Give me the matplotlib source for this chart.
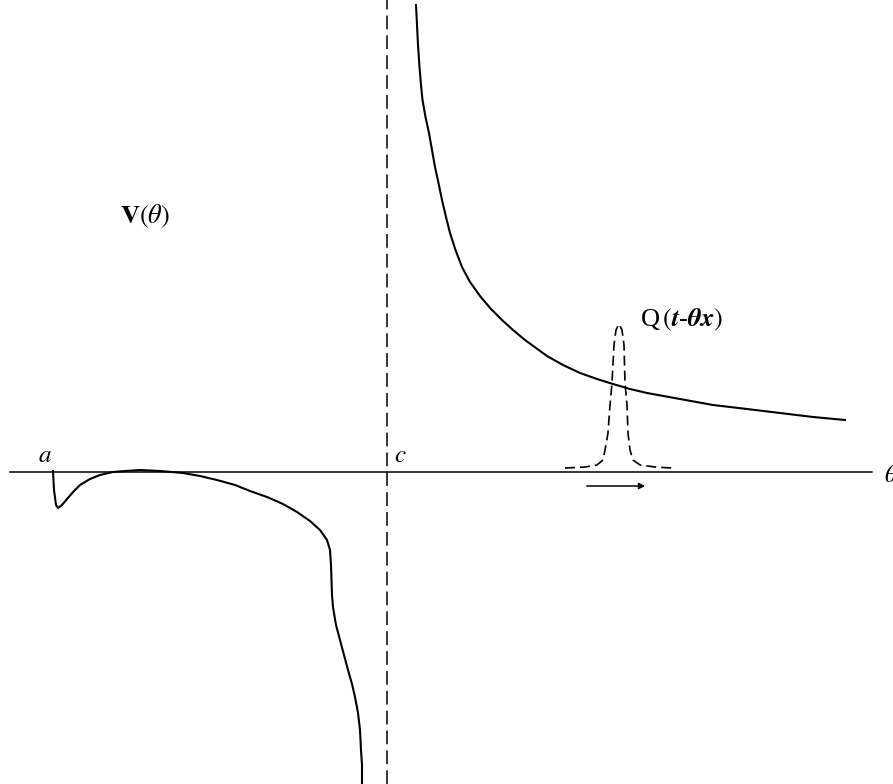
import numpy as np
import matplotlib.pyplot as plt

plt.rcParams['mathtext.fontset'] = 'stix'
plt.rcParams['font.family'] = 'Liberation Serif'

# picture units: theta to the right, V upward (axis at V = 0, c at theta = 387)
AXIS_PY = 472

# negative branch, from a down to the singularity at c
left_theta = [53, 54, 56, 58, 62, 67, 74, 80, 90, 100, 113, 125, 140, 160, 183, 200,
              217, 235, 250, 267, 283, 297, 310, 320, 327, 330, 331, 331.5, 332, 333,
              336, 340, 344, 348, 352, 355, 358, 360, 361, 362, 362]
left_py = [471, 490, 505, 508, 505, 499, 491, 485, 479, 475, 472, 471, 470, 471, 473, 476,
           480, 485, 491, 497, 504, 512, 521, 530, 540, 550, 565, 580, 595, 607,
           625, 640, 655, 670, 684, 697, 713, 730, 750, 765, 784]

# positive branch, right of c
right_theta = [416, 417, 418, 419.5, 421, 422.5, 425.5, 429, 432, 435, 438.5, 442, 446, 450,
               455.5, 462, 470, 480, 491, 502, 513, 525, 536, 547, 563, 580, 597, 613,
               630, 647, 680, 713, 747, 780, 813, 845]
right_py = [5, 25, 45, 67, 85, 100, 117, 133, 150, 167, 183, 200, 217, 233,
            250, 267, 282, 296, 309, 320, 330, 340, 348, 356, 365, 373, 379, 384,
            389, 393, 399, 405, 409, 413, 417, 420]

# the pulse Q(t - theta x)
pulse_theta = [565, 585, 597, 603, 605, 608, 610, 612, 614, 616, 619, 622, 624, 625,
               627, 628, 630, 633, 640, 655, 672]
pulse_py = [468, 467, 465, 460, 450, 433, 405, 383, 345, 330, 324, 330, 345, 383,
            405, 433, 450, 460, 465, 467, 468]

c_theta = 387


def v(py):
    return AXIS_PY - np.asarray(py, dtype=float)


fig = plt.figure(figsize=(8.93, 7.84), dpi=100)
ax = fig.add_axes([0, 0, 1, 1])
ax.set_xlim(0, 893)
ax.set_ylim(AXIS_PY - 784, AXIS_PY)
ax.axis('off')

# theta axis and the line theta = c
ax.plot([10, 872], [0, 0], color='black', lw=1.1)
ax.axvline(c_theta, color='black', lw=1.1, linestyle=(0, (9, 4)))

ax.plot(left_theta, v(left_py), color='black', lw=1.5)
ax.plot(right_theta, v(right_py), color='black', lw=1.5)
ax.plot(pulse_theta, v(pulse_py), color='black', lw=1.2, linestyle=(0, (6, 3)))

# direction of travel of the pulse
ax.annotate('', xy=(648, v(486)), xytext=(584, v(486)),
            arrowprops=dict(arrowstyle='-|>', color='black', lw=1.1, mutation_scale=9))

ax.text(45, v(456), r'$a$', fontsize=18, ha='center', va='center')
ax.text(400, v(456), r'$c$', fontsize=18, ha='center', va='center')
ax.text(884, v(476), r'$\theta$', fontsize=18, ha='left', va='center')
ax.text(120, v(216), r'$\mathbf{V}(\theta)$', fontsize=19, ha='left', va='center')
ax.text(640, v(320), r'Q$\,(\boldsymbol{t}$-$\boldsymbol{\theta x})$', fontsize=19,
        ha='left', va='center')

fig.savefig('out.png', dpi=100, facecolor='white')
